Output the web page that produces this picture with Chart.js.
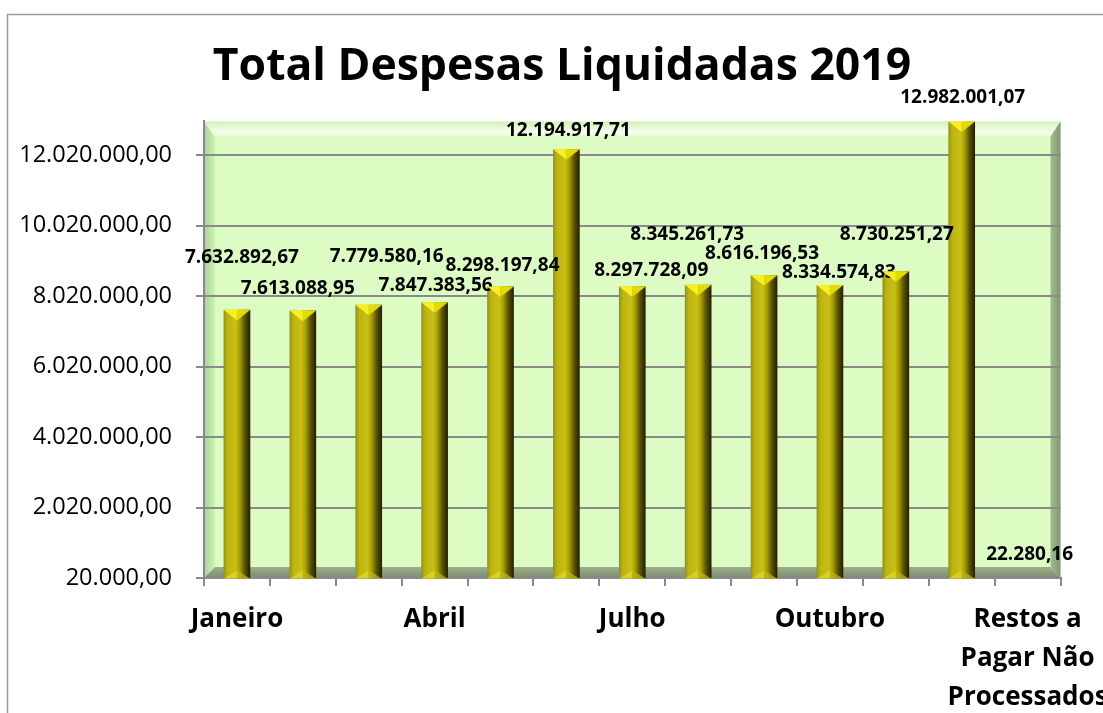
<!DOCTYPE html>
<html lang="pt-BR">
<head>
<meta charset="utf-8">
<title>Total Despesas Liquidadas 2019</title>
<script src="https://cdn.jsdelivr.net/npm/chart.js@4.4.1/dist/chart.umd.min.js"></script>
<style>
  html, body { margin: 0; padding: 0; background: #fff; overflow: hidden; }
  canvas { display: block; }
</style>
</head>
<body>
<canvas id="despesasChart" width="1124" height="740"></canvas>
<script>
// dados
const meses = ['Janeiro', 'Fevereiro', 'Março', 'Abril', 'Maio', 'Junho', 'Julho',
  'Agosto', 'Setembro', 'Outubro', 'Novembro', 'Dezembro', ['Restos a', 'Pagar Não', 'Processados']];
const valores = [7632892.67, 7613088.95, 7779580.16, 7847383.56, 8298197.84, 12194917.71, 8297728.09,
  8345261.73, 8616196.53, 8334574.83, 8730251.27, 12982001.07, 22280.16];
const yTicks = [20000, 2020000, 4020000, 6020000, 8020000, 10020000, 12020000];

// deslocamento dos rótulos de valor em relação ao topo de cada barra (px)
const rotuloDx = [5, -5, 18, 1, 2, 2, 19, -11, -2, 9, 1, 1, 2];
const rotuloDy = [-52, -22, -48, -17, -21, -19, -16, -50, -22, -13, -37, -24, -23];

const BAR_PCT = 0.9, CAT_PCT = 0.45;

function formatarBR(v) {
  const [inteiro, dec] = v.toFixed(2).split('.');
  return inteiro.replace(/\B(?=(\d{3})+(?!\d))/g, '.') + ',' + dec;
}

Chart.defaults.font.family = "'Open Sans', sans-serif";
Chart.defaults.color = '#000';

function corBarra(c) {
  const chart = c.chart;
  const xs = chart.scales.x;
  if (!chart.chartArea || !xs || c.type !== 'data') return '#c0b810';
  const x = xs.getPixelForValue(c.dataIndex);
  const w = xs.width / meses.length * BAR_PCT * CAT_PCT;
  const g = chart.ctx.createLinearGradient(x - w / 2, 0, x + w / 2, 0);
  g.addColorStop(0, '#9a9200');
  g.addColorStop(0.15, '#bdb50e');
  g.addColorStop(0.45, '#c8c018');
  g.addColorStop(0.6, '#a9a100');
  g.addColorStop(0.78, '#5c5600');
  g.addColorStop(1, '#201e00');
  return g;
}

// fundo 3D (parede, piso) e moldura
const fundo3d = {
  id: 'fundo3d',
  beforeDraw(chart) {
    const { ctx, chartArea: a } = chart;
    ctx.save();
    ctx.fillStyle = '#fff';
    ctx.fillRect(0, 0, chart.width, chart.height);
    ctx.strokeStyle = '#9a9a9a';
    ctx.lineWidth = 1.5;
    ctx.strokeRect(7.5, 14.5, chart.width, chart.height);

    ctx.fillStyle = '#dcfcc4';
    ctx.fillRect(a.left, a.top, a.right - a.left, a.bottom - a.top);

    const b = 11;
    // parede esquerda
    let g = ctx.createLinearGradient(a.left, 0, a.left + b, 0);
    g.addColorStop(0, '#a9d393');
    g.addColorStop(1, '#cdf2b6');
    ctx.fillStyle = g;
    ctx.beginPath();
    ctx.moveTo(a.left, a.top); ctx.lineTo(a.left + b, a.top + 15);
    ctx.lineTo(a.left + b, a.bottom - 11); ctx.lineTo(a.left, a.bottom);
    ctx.closePath(); ctx.fill();

    // topo
    g = ctx.createLinearGradient(0, a.top, 0, a.top + 16);
    g.addColorStop(0, '#d2f2bb');
    g.addColorStop(0.7, '#f7ffef');
    g.addColorStop(1, '#dcfcc4');
    ctx.fillStyle = g;
    ctx.beginPath();
    ctx.moveTo(a.left, a.top); ctx.lineTo(a.right, a.top);
    ctx.lineTo(a.right - 10, a.top + 15); ctx.lineTo(a.left + b, a.top + 15);
    ctx.closePath(); ctx.fill();

    // lateral direita
    g = ctx.createLinearGradient(a.right - 10, 0, a.right, 0);
    g.addColorStop(0, '#a4bc92');
    g.addColorStop(1, '#7f9470');
    ctx.fillStyle = g;
    ctx.beginPath();
    ctx.moveTo(a.right, a.top); ctx.lineTo(a.right, a.bottom);
    ctx.lineTo(a.right - 10, a.bottom - 11); ctx.lineTo(a.right - 10, a.top + 15);
    ctx.closePath(); ctx.fill();

    // piso
    g = ctx.createLinearGradient(0, a.bottom - 11, 0, a.bottom);
    g.addColorStop(0, '#9cae8a');
    g.addColorStop(1, '#7d8c6f');
    ctx.fillStyle = g;
    ctx.beginPath();
    ctx.moveTo(a.left, a.bottom); ctx.lineTo(a.right, a.bottom);
    ctx.lineTo(a.right - 10, a.bottom - 11); ctx.lineTo(a.left + b, a.bottom - 11);
    ctx.closePath(); ctx.fill();
    ctx.restore();
  }
};

// chanfros das barras e rótulos de valor
const barras3d = {
  id: 'barras3d',
  afterDatasetsDraw(chart) {
    const { ctx } = chart;
    const meta = chart.getDatasetMeta(0);
    const ys = chart.scales.y;
    ctx.save();
    meta.data.forEach((bar, i) => {
      const w = bar.width, l = bar.x - w / 2, r = bar.x + w / 2;
      if (bar.base - bar.y > 3) {
        const h = w * 0.4;
        ctx.fillStyle = '#f8f020';
        ctx.beginPath();
        ctx.moveTo(l, bar.y); ctx.lineTo(bar.x, bar.y); ctx.lineTo(bar.x, bar.y + h);
        ctx.closePath(); ctx.fill();
        ctx.fillStyle = '#e2da00';
        ctx.beginPath();
        ctx.moveTo(bar.x, bar.y); ctx.lineTo(r, bar.y); ctx.lineTo(bar.x, bar.y + h);
        ctx.closePath(); ctx.fill();

        ctx.fillStyle = 'rgba(222,214,40,0.75)';
        ctx.beginPath();
        ctx.moveTo(l, bar.base); ctx.lineTo(bar.x, bar.base - h * 0.8); ctx.lineTo(bar.x, bar.base);
        ctx.closePath(); ctx.fill();
        ctx.fillStyle = 'rgba(190,180,20,0.75)';
        ctx.beginPath();
        ctx.moveTo(bar.x, bar.base); ctx.lineTo(bar.x, bar.base - h * 0.8); ctx.lineTo(r, bar.base);
        ctx.closePath(); ctx.fill();
      }
      ctx.font = "bold 19px 'Open Sans', sans-serif";
      ctx.fillStyle = '#000';
      ctx.textAlign = 'center';
      ctx.textBaseline = 'middle';
      const yTopo = ys.getPixelForValue(valores[i]);
      ctx.fillText(formatarBR(valores[i]), bar.x + rotuloDx[i], yTopo + rotuloDy[i]);
    });
    ctx.restore();
  }
};

new Chart(document.getElementById('despesasChart'), {
  type: 'bar',
  data: {
    labels: meses,
    datasets: [{
      data: valores,
      backgroundColor: corBarra,
      borderWidth: 0,
      barPercentage: BAR_PCT,
      categoryPercentage: CAT_PCT
    }]
  },
  options: {
    responsive: false,
    animation: false,
    layout: { padding: { top: 14, right: 0, left: 0, bottom: 0 } },
    plugins: {
      legend: { display: false },
      tooltip: { enabled: false },
      title: {
        display: true,
        text: 'Total Despesas Liquidadas 2019',
        color: '#000',
        font: { size: 44.5, weight: 'bold' },
        padding: { top: 27, bottom: 27 }
      }
    },
    scales: {
      x: {
        afterFit: s => { s.height = 162; },
        grid: { offset: true, drawOnChartArea: false, color: '#8a8a8a', lineWidth: 2, tickLength: 8 },
        border: { color: '#8a8a8a', width: 2 },
        ticks: {
          autoSkip: false,
          maxRotation: 0,
          padding: 14,
          font: { size: 26, weight: 'bold', lineHeight: 1.5 },
          callback: function (val, idx) { return idx % 3 === 0 ? this.getLabelForValue(val) : ''; }
        }
      },
      y: {
        min: 20000,
        max: Math.max(...valores),
        afterFit: s => { s.width = 204; },
        afterBuildTicks: s => { s.ticks = yTicks.map(v => ({ value: v })); },
        grid: { color: '#8a8a8a', lineWidth: 2, tickLength: 8 },
        border: { color: '#8a8a8a', width: 2 },
        ticks: {
          padding: 24,
          font: { size: 23.5 },
          callback: v => formatarBR(v)
        }
      },
      // margem direita vazia (mantém o título centrado na moldura)
      margemDir: {
        type: 'linear',
        position: 'right',
        afterFit: s => { s.width = 63; },
        grid: { display: false },
        border: { display: false },
        ticks: { display: false }
      }
    }
  },
  plugins: [fundo3d, barras3d]
});
</script>
</body>
</html>
